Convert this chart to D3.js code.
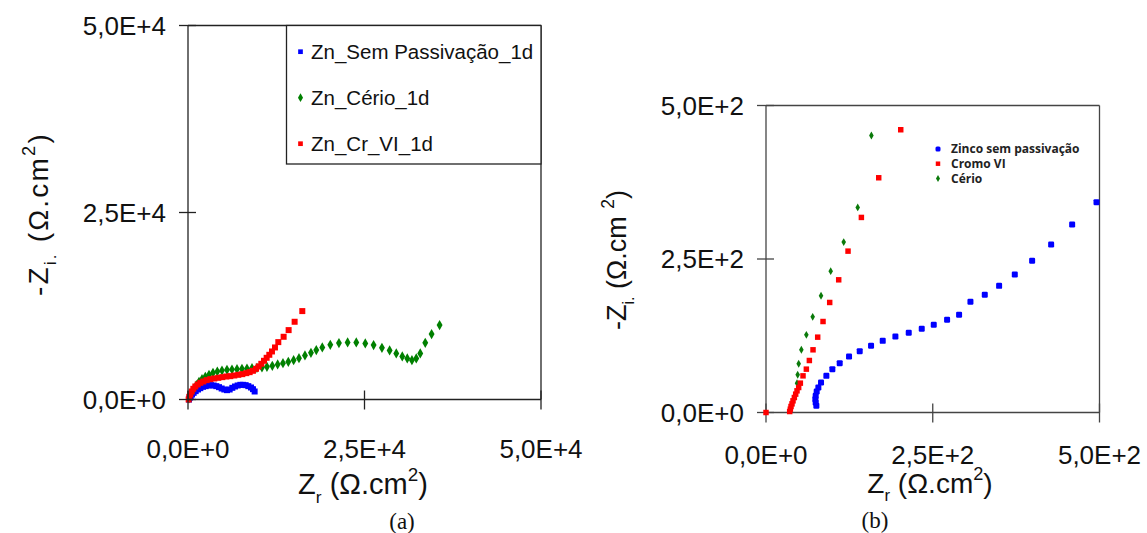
<!DOCTYPE html>
<html>
<head>
<meta charset="utf-8">
<script src="https://cdnjs.cloudflare.com/ajax/libs/d3/7.8.5/d3.min.js"></script>
<style>
	body { margin: 0; background: #fff; }
	svg { display: block; }
	text { font-family: "Liberation Sans", Arial, sans-serif; }
</style>
</head>
<body>
<svg width="1147" height="533"></svg>
<script>
// ---- panel (a) data: [Zr, -Zi] in ohm.cm2
var semPassA = [[142,0],[236,223],[378,446],[566,669],[802,892],[1086,1115],[1416,1338],[1746,1516],[2124,1695],[2502,1784],[2879,1873],[3257,1918],[3634,1873],[4012,1784],[4390,1650],[4767,1472],[5145,1338],[5522,1249],[5900,1338],[6278,1561],[6655,1739],[7033,1873],[7410,1962],[7788,1962],[8166,1918],[8543,1784],[8921,1606],[9204,1383],[9440,1070]]
var cerioA = [[142,134],[330,580],[566,1026],[850,1472],[1180,1918],[1558,2364],[1982,2721],[2454,3033],[2974,3300],[3540,3568],[4154,3746],[4814,3880],[5522,3969],[6230,4014],[6938,4059],[7646,4103],[8354,4148],[9062,4192],[9770,4237],[10478,4282],[11186,4371],[11942,4505],[12697,4683],[13452,4861],[14207,5040],[14962,5263],[15718,5530],[16567,5887],[17417,6244],[18172,6601],[19022,6958],[20154,7314],[21382,7537],[22609,7627],[23836,7627],[25110,7493],[26290,7270],[27470,6913],[28560,6556],[29500,6155],[30350,5753],[31058,5486],[31718,5263],[32332,5486],[32898,6155],[33606,7582],[34503,8742],[35636,9946]]
var crVIA = [[94,0],[189,357],[330,714],[519,1070],[755,1427],[1038,1739],[1369,2007],[1746,2230],[2171,2408],[2643,2587],[3162,2721],[3729,2810],[4295,2899],[4862,2988],[5428,3077],[5994,3122],[6561,3211],[7127,3300],[7694,3390],[8260,3523],[8732,3657],[9204,3836],[9629,4103],[10006,4415],[10384,4772],[10762,5174],[11139,5575],[11517,5976],[11894,6422],[12319,6958],[12791,7671],[13546,8385],[14254,9277],[15104,10392],[16190,11819]]
var ticksA = [0, 25000, 50000]
var tickLabelsA = ["0,0E+0", "2,5E+4", "5,0E+4"]
var legendA = ["Zn_Sem Passivação_1d", "Zn_Cério_1d", "Zn_Cr_VI_1d"]

// ---- panel (b) data
var zincoB = [[75.5,10.9],[74.5,16.3],[74,21.7],[74.5,27.1],[76,34.2],[78.5,40.7],[82.5,48.9],[90.5,59.7],[99.5,70.6],[110.5,80.4],[124.5,91.2],[140.5,99.9],[157.5,108.6],[175,116.7],[194,123.8],[214,129.8],[233.5,136.3],[251.5,142.8],[271.5,151],[289.5,159.1],[306.5,180.3],[328,191.7],[349.5,206.3],[373,224.8],[399,247.1],[427.5,273.7],[459,306.3],[495.5,342.6]]
var cromoB = [[0,0],[35.5,1.6],[36.5,5.4],[37.5,9.8],[39,14.1],[40.5,19],[42.5,24.4],[44.5,29.9],[46.5,35.3],[49,40.7],[51.5,47.8],[55.5,59.7],[60.5,70.6],[65,84.7],[70.5,102.1],[77.5,122.7],[85.5,148.2],[95.5,179.2],[109,216.1],[123,262.8],[143,317.7],[169,382.3],[202,460.5]]
var cerioB = [[46.5,47.8],[47.5,61.4],[49,79.3],[53,102.1],[60.5,126.5],[70,155.8],[82.5,190.1],[97,230.2],[116.5,277.5],[137.5,334],[158,451.2]]
var ticksB = [0, 250, 500]
var tickLabelsB = ["0,0E+0", "2,5E+2", "5,0E+2"]
var legendB = ["Zinco sem passivação", "Cromo VI", "Cério"]

var svg = d3.select("svg")

function addAxisLabel(g, x, y, sub, size, rotate, supGap, spacing) {
	var t = g.append("text")
		.attr("text-anchor", "middle")
		.attr("fill", "#111")
		.style("font-size", size + "px")
		.style("letter-spacing", spacing + "px")
		.attr("transform", "translate(" + x + "," + y + ")" + (rotate ? " rotate(-90)" : ""))
	if (rotate) t.append("tspan").text("-")
	t.append("tspan").text("Z")
	t.append("tspan").attr("dy", size * 0.3).style("font-size", (size * 0.6) + "px").text(sub)
	t.append("tspan").attr("dy", -size * 0.3).text((rotate ? "  " : " ") + "(\u03A9.cm" + supGap)
	t.append("tspan").attr("dy", -size * 0.45).style("font-size", (size * 0.65) + "px").text("2")
	t.append("tspan").attr("dy", size * 0.45).text(")")
}

function drawFrame(g, x, y, ticks, labels, stroke, lblSize, xLblDy) {
	var x0 = x.range()[0], x1 = x.range()[1]
	var y0 = y.range()[0], y1 = y.range()[1]
	var frame = g.append("g").attr("stroke", stroke).attr("stroke-width", 1.3)
	frame.append("line").attr("x1", x0).attr("x2", x0).attr("y1", y1).attr("y2", y0)
	frame.append("line").attr("x1", x0).attr("x2", x1).attr("y1", y0).attr("y2", y0)
	frame.append("line").attr("x1", x0).attr("x2", x1).attr("y1", y1).attr("y2", y1)
	frame.append("line").attr("x1", x1).attr("x2", x1).attr("y1", y1).attr("y2", y0)
	// crossing ticks
	ticks.forEach(function (v) {
		frame.append("line").attr("x1", x(v)).attr("x2", x(v)).attr("y1", y0 - 9).attr("y2", y0 + 10)
		frame.append("line").attr("x1", x0 - 9).attr("x2", x0 + 8).attr("y1", y(v)).attr("y2", y(v))
	})
	g.selectAll(".ylbl").data(ticks).enter().append("text")
		.attr("x", x0 - 22)
		.attr("y", function (d) { return y(d) + lblSize * 0.36; })
		.attr("text-anchor", "end")
		.style("font-size", lblSize + "px")
		.attr("fill", "#111")
		.text(function (d, i) { return labels[i]; })
	g.selectAll(".xlbl").data(ticks).enter().append("text")
		.attr("x", function (d) { return x(d); })
		.attr("y", y0 + xLblDy)
		.attr("text-anchor", "middle")
		.style("font-size", lblSize + "px")
		.attr("fill", "#111")
		.text(function (d, i) { return labels[i]; })
}

// ===== panel (a)
var gA = svg.append("g")
var xA = d3.scaleLinear().domain([0, 50000]).range([188, 541])
var yA = d3.scaleLinear().domain([0, 50000]).range([399.5, 25.5])

var sq = d3.symbol().type(d3.symbolSquare)
var dia = d3.symbol().type(d3.symbolDiamond)

gA.selectAll(".pb").data(semPassA).enter().append("path")
	.attr("d", sq.size(36)())
	.attr("fill", "#0000ff")
	.attr("transform", function (d) { return "translate(" + xA(d[0]) + "," + yA(d[1]) + ")"; })
gA.selectAll(".pg").data(cerioA).enter().append("path")
	.attr("d", dia.size(30)())
	.attr("fill", "#008000")
	.attr("transform", function (d) { return "translate(" + xA(d[0]) + "," + yA(d[1]) + ")"; })
gA.selectAll(".pr").data(crVIA).enter().append("path")
	.attr("d", sq.size(36)())
	.attr("fill", "#ff0000")
	.attr("transform", function (d) { return "translate(" + xA(d[0]) + "," + yA(d[1]) + ")"; })

drawFrame(gA, xA, yA, ticksA, tickLabelsA, "#222", 26, 58)

// legend (a)
var legA = gA.append("g")
legA.append("rect").attr("x", 286.5).attr("y", 25.5).attr("width", 254.5).attr("height", 138.5)
	.attr("fill", "#fff").attr("stroke", "#222").attr("stroke-width", 1.3)
var legColorsA = ["#0000ff", "#008000", "#ff0000"]
var legSymA = [sq.size(22)(), dia.size(22)(), sq.size(22)()]
legendA.forEach(function (name, i) {
	var yy = 51.7 + i * 46
	legA.append("path").attr("d", legSymA[i]).attr("fill", legColorsA[i])
		.attr("transform", "translate(300.5," + yy + ")")
	legA.append("text").attr("x", 311).attr("y", yy + 7.5)
		.style("font-size", "20.5px").attr("fill", "#111").text(name)
})

addAxisLabel(gA, 363, 494, "r", 29, false, "", 0)
addAxisLabel(gA, 48, 214, "i.", 28, true, "", 2.2)
gA.append("text").attr("x", 402).attr("y", 529).attr("text-anchor", "middle")
	.style("font-family", "'Liberation Serif', serif").style("font-size", "23px").attr("fill", "#111").text("(a)")

// ===== panel (b)
var gB = svg.append("g")
var xB = d3.scaleLinear().domain([0, 500]).range([766, 1099.5])
var yB = d3.scaleLinear().domain([0, 500]).range([412.5, 105.5])

drawFrame(gB, xB, yB, ticksB, tickLabelsB, "#444", 26, 51)

gB.selectAll(".pb").data(zincoB).enter().append("rect")
	.attr("x", function (d) { return xB(d[0]) - 3; })
	.attr("y", function (d) { return yB(d[1]) - 3; })
	.attr("width", 6).attr("height", 6).attr("rx", 1.2)
	.attr("fill", "#0000ff")
gB.selectAll(".pg").data(cerioB).enter().append("path")
	.attr("d", dia.size(18)())
	.attr("fill", "#0a7a0a")
	.attr("transform", function (d) { return "translate(" + xB(d[0]) + "," + yB(d[1]) + ")"; })
gB.selectAll(".pr").data(cromoB).enter().append("path")
	.attr("d", sq.size(30)())
	.attr("fill", "#ff0000")
	.attr("transform", function (d) { return "translate(" + xB(d[0]) + "," + yB(d[1]) + ")"; })

// legend (b)
var legColorsB = ["#0000ff", "#ff0000", "#0a7a0a"]
legendB.forEach(function (name, i) {
	var yy = 149 + i * 14.7
	if (i == 0) {
		gB.append("rect").attr("x", 935.5).attr("y", yy - 2.5).attr("width", 5).attr("height", 5).attr("rx", 1.5).attr("fill", legColorsB[i])
	} else if (i == 1) {
		gB.append("path").attr("d", sq.size(20)()).attr("fill", legColorsB[i]).attr("transform", "translate(938," + yy + ")")
	} else {
		gB.append("path").attr("d", dia.size(14)()).attr("fill", legColorsB[i]).attr("transform", "translate(938," + yy + ")")
	}
	gB.append("text").attr("x", 951).attr("y", yy + 4.3)
		.style("font-family", "'Open Sans', sans-serif").style("font-weight", "700")
		.style("font-size", "12px").attr("fill", "#222").text(name)
})

addAxisLabel(gB, 930, 493, "r", 28, false, "", 0)
addAxisLabel(gB, 626, 260, "i.", 27, true, " ", 0)
gB.append("text").attr("x", 875).attr("y", 528).attr("text-anchor", "middle")
	.style("font-family", "'Liberation Serif', serif").style("font-size", "23px").attr("fill", "#111").text("(b)")
</script>
</body>
</html>
